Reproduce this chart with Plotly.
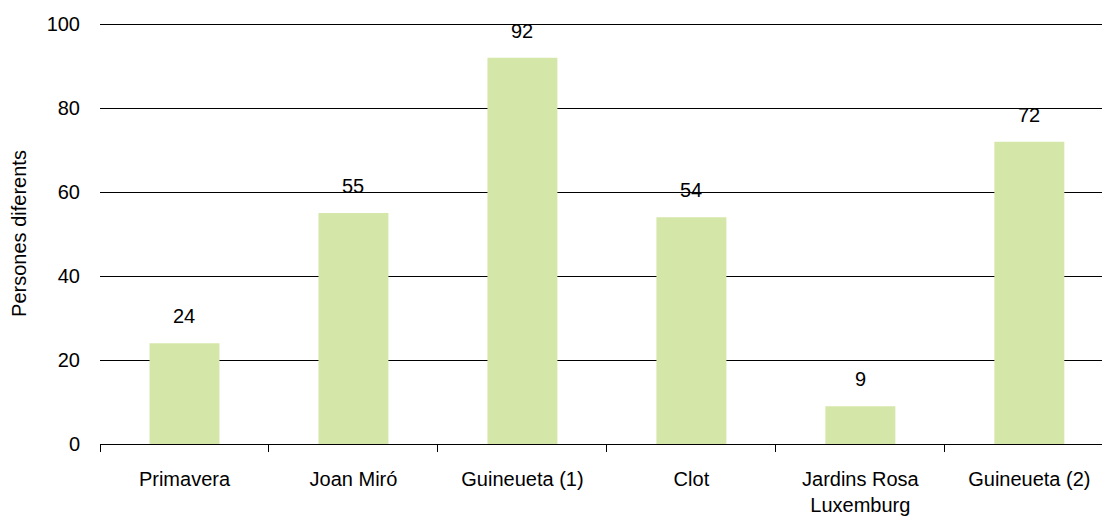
import plotly.graph_objects as go

categories = ["Primavera", "Joan Miró", "Guineueta (1)", "Clot", "Jardins Rosa<br>Luxemburg", "Guineueta (2)"]
values = [24, 55, 92, 54, 9, 72]
y_ticks = [0, 20, 40, 60, 80, 100]

FONT = "Liberation Sans Narrow, Arial Narrow, Liberation Sans, Arial, sans-serif"
FS = 20
BAR_COLOR = "#d4e6a8"

fig = go.Figure()
fig.add_trace(go.Bar(x=categories, y=values, marker=dict(color=BAR_COLOR, line=dict(width=0)),
                     hoverinfo="x+y"))

for c, v in zip(categories, values):
    fig.add_annotation(x=c, y=v, text=str(v), showarrow=False, yanchor="bottom",
                       yshift=14, font=dict(family=FONT, size=FS, color="black"))

fig.update_layout(
    width=1102, height=524,
    margin=dict(l=100, r=0, t=23, b=80),
    paper_bgcolor="white", plot_bgcolor="white",
    bargap=0.586,
    showlegend=False,
    font=dict(family=FONT, size=FS, color="black"),
)
fig.update_xaxes(
    type="category", range=[-0.5, 5.43],
    showline=True, linecolor="black", linewidth=1,
    ticks="outside", tickson="boundaries", ticklen=7, tickcolor="black", tickwidth=1,
    showgrid=False, ticklabelstandoff=17,
    tickfont=dict(family=FONT, size=FS, color="black"),
)
fig.update_yaxes(
    range=[0, 100.25], tickvals=y_ticks,
    showgrid=True, gridcolor="black", gridwidth=1,
    zeroline=False, showline=False, ticks="",
    ticklabelstandoff=19,
    tickfont=dict(family=FONT, size=FS, color="black"),
    title=dict(text="Persones diferents", standoff=14, font=dict(family=FONT, size=FS, color="black")),
)

fig.write_html("out.html")
